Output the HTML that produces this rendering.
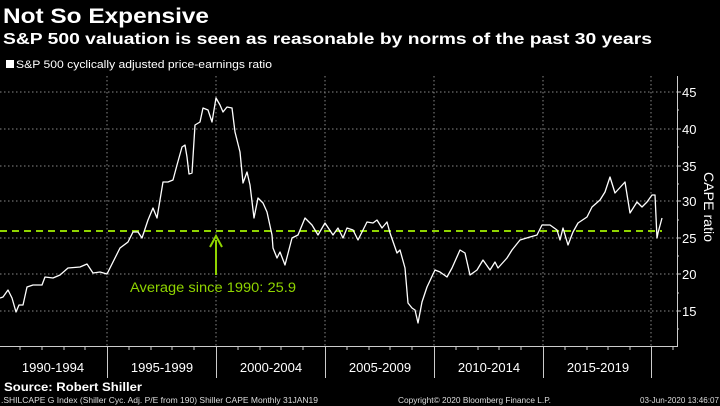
<!DOCTYPE html><html><head><style>
body{margin:0;background:#000;width:720px;height:406px;overflow:hidden;font-family:"Liberation Sans",sans-serif;color:#fff}
</style></head><body>
<svg width="720" height="406" xmlns="http://www.w3.org/2000/svg" style="position:absolute;left:0;top:0">
<text x="3" y="23" font-size="21" font-weight="bold" fill="#fff" textLength="206" lengthAdjust="spacingAndGlyphs">Not So Expensive</text>
<text x="3" y="44" font-size="15.5" font-weight="bold" fill="#fff" textLength="649" lengthAdjust="spacingAndGlyphs">S&amp;P 500 valuation is seen as reasonable by norms of the past 30 years</text>
<rect x="6" y="60" width="8" height="8" fill="#fff"/>
<text x="16" y="68" font-size="11" fill="#fff" textLength="256" lengthAdjust="spacingAndGlyphs">S&amp;P 500 cyclically adjusted price-earnings ratio</text>
<g stroke="#888" stroke-dasharray="1.5,2.5" stroke-width="1">
<line x1="0" y1="92" x2="677" y2="92"/><line x1="0" y1="129" x2="677" y2="129"/><line x1="0" y1="166" x2="677" y2="166"/><line x1="0" y1="201" x2="677" y2="201"/><line x1="0" y1="238" x2="677" y2="238"/><line x1="0" y1="274" x2="677" y2="274"/><line x1="0" y1="311" x2="677" y2="311"/>
<line x1="107" y1="76" x2="107" y2="346"/><line x1="216" y1="76" x2="216" y2="346"/><line x1="325" y1="76" x2="325" y2="346"/><line x1="434" y1="76" x2="434" y2="346"/><line x1="543" y1="76" x2="543" y2="346"/><line x1="651" y1="76" x2="651" y2="346"/>
</g>
<g stroke="#ccc" stroke-width="1">
<line x1="0" y1="346.5" x2="677" y2="346.5"/>
<line x1="677.5" y1="76" x2="677.5" y2="347"/>
<line x1="107.5" y1="347" x2="107.5" y2="378"/><line x1="216.5" y1="347" x2="216.5" y2="378"/><line x1="325.5" y1="347" x2="325.5" y2="378"/><line x1="434.5" y1="347" x2="434.5" y2="378"/><line x1="543.5" y1="347" x2="543.5" y2="378"/><line x1="651.5" y1="347" x2="651.5" y2="378"/>
</g>
<g stroke="#ccc" stroke-width="1">
<path d="M20 347v3M42 347v3M64 347v3M85 347v3M129 347v3M151 347v3M172 347v3M194 347v3M238 347v3M260 347v3M281 347v3M303 347v3M347 347v3M369 347v3M390 347v3M412 347v3M456 347v3M478 347v3M499 347v3M521 347v3M565 347v3M587 347v3M608 347v3M630 347v3M673 347v3"/>
<path d="M677 92h4M677 129h4M677 166h4M677 201h4M677 238h4M677 274h4M677 311h4M677 110h2M677 147h2M677 184h2M677 220h2M677 256h2M677 293h2M677 329h2"/>
</g>
<g font-size="13" fill="#fff">
<text x="682" y="97">45</text><text x="682" y="134">40</text><text x="682" y="171">35</text><text x="682" y="206">30</text><text x="682" y="243">25</text><text x="682" y="279">20</text><text x="682" y="316">15</text>
</g>
<text transform="translate(704,172) rotate(90)" font-size="14" fill="#fff" textLength="70" lengthAdjust="spacingAndGlyphs">CAPE ratio</text>
<line x1="0" y1="231" x2="662" y2="231" stroke="#8fd400" stroke-width="2" stroke-dasharray="7,5"/>
<polyline fill="none" stroke="#fff" stroke-width="1.3" stroke-linejoin="round" points="0,298 3,297 8,290 12,298 16,312 19,305 23,305 27,287 33,285 42,285 45,277 53,278 60,275 68,268 80,267 87,264 93,273 100,272 107,274 120,248 128,242 133,232 138,232 142,238 148,220 153,208 157,218 163,182 168,182 173,180 177,165 182,147 185,145 187,157 189,174 192,173 195,125 200,122 203,108 208,110 212,122 216,98 220,105 223,112 227,107 232,108 235,132 240,152 243,183 247,172 250,185 254,218 258,198 263,203 267,212 272,235 273,248 277,258 280,252 285,265 292,238 298,235 305,218 312,225 318,235 325,223 333,235 338,228 343,238 347,228 353,230 358,240 367,222 373,223 377,220 382,228 387,222 390,233 397,253 400,250 405,268 408,303 412,308 415,310 418,323 422,302 427,287 435,270 440,272 447,277 452,268 460,250 465,253 470,275 477,270 483,260 490,270 495,262 498,268 507,258 512,250 520,240 530,237 537,235 542,225 550,225 557,230 560,240 563,228 568,245 573,232 578,223 587,217 592,207 600,200 605,192 610,177 615,193 625,182 630,213 637,202 642,207 647,202 652,195 655,195 657,238 658,233 662,218"/>
<line x1="216" y1="240" x2="216" y2="275" stroke="#8fd400" stroke-width="2"/>
<path d="M210 247 L216 236 L222 247" fill="none" stroke="#8fd400" stroke-width="2"/>
<text x="130" y="292" font-size="13.5" fill="#8fd400" textLength="166" lengthAdjust="spacingAndGlyphs">Average since 1990: 25.9</text>
<g font-size="13" fill="#fff" text-anchor="middle">
<text x="53" y="372">1990-1994</text><text x="162" y="372">1995-1999</text><text x="271" y="372">2000-2004</text><text x="380" y="372">2005-2009</text><text x="489" y="372">2010-2014</text><text x="598" y="372">2015-2019</text>
</g>
<text x="4" y="391" font-size="12" font-weight="bold" fill="#fff" textLength="138" lengthAdjust="spacingAndGlyphs">Source: Robert Shiller</text>
<g font-size="8" fill="#ddd">
<text x="1" y="403" textLength="317" lengthAdjust="spacingAndGlyphs">.SHILCAPE G Index (Shiller Cyc. Adj. P/E from 190) Shiller CAPE  Monthly 31JAN19</text>
<text x="398" y="403" textLength="153" lengthAdjust="spacingAndGlyphs">Copyright© 2020 Bloomberg Finance L.P.</text>
<text x="640" y="403" textLength="79" lengthAdjust="spacingAndGlyphs">03-Jun-2020 13:46:07</text>
</g>
</svg>
</body></html>
